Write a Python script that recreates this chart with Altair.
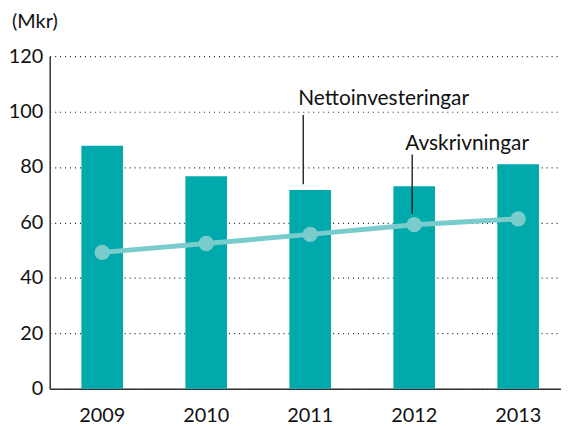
import altair as alt
import pandas as pd

years = ["2009", "2010", "2011", "2012", "2013"]
netto = [87.7, 76.7, 71.7, 73.1, 81.0]
avskr = [49.2, 52.4, 55.7, 59.2, 61.3]

ann_labels = ["Nettoinvesteringar", "Avskrivningar"]
ann_years = ["2011", "2012"]
ann_text_y = [102.4, 86.1]
ann_line_top = [98.8, 84.5]
ann_line_bottom = [73.8, 63.1]

df = pd.DataFrame({"year": years, "netto": netto, "avskr": avskr})
ann = pd.DataFrame({"year": ann_years, "label": ann_labels, "ty": ann_text_y,
                    "top": ann_line_top, "bottom": ann_line_bottom})

FONT = "Lato"
xscale = alt.Scale(paddingInner=0.6, paddingOuter=0.2584, align=0.59)
yscale = alt.Scale(domain=[0, 120])

xenc = alt.X("year:N", title=None, scale=xscale,
             axis=alt.Axis(labelAngle=0, ticks=False, labelFontSize=20, labelPadding=17,
                           labelColor="#111", domainColor="#333", domainWidth=1.5, grid=False))

bars = alt.Chart(df).mark_bar(color="#00A9AC").encode(
    x=xenc,
    y=alt.Y("netto:Q", scale=yscale, title=None,
            axis=alt.Axis(values=[0, 20, 40, 60, 80, 100, 120], ticks=False, labelFontSize=20,
                          labelColor="#111", labelPadding=7, domainColor="#333", domainWidth=1.5,
                          grid=True, gridDash=[1, 4], gridColor="#222", gridWidth=1.2)),
)

line = alt.Chart(df).mark_line(color="#7ACCCC", strokeWidth=5).encode(
    x=alt.X("year:N", scale=xscale), y=alt.Y("avskr:Q", scale=yscale))
pts = alt.Chart(df).mark_point(filled=True, color="#7ACCCC", size=240, opacity=1).encode(
    x=alt.X("year:N", scale=xscale), y=alt.Y("avskr:Q", scale=yscale))

rule1 = alt.Chart(ann[ann.year == "2011"]).mark_rule(color="#111", strokeWidth=1.3, xOffset=-7).encode(
    x=alt.X("year:N", scale=xscale),
    y=alt.Y("top:Q", scale=yscale), y2="bottom:Q")
rule2 = alt.Chart(ann[ann.year == "2012"]).mark_rule(color="#111", strokeWidth=1.3, xOffset=-2).encode(
    x=alt.X("year:N", scale=xscale),
    y=alt.Y("top:Q", scale=yscale), y2="bottom:Q")

text1 = alt.Chart(ann[ann.year == "2011"]).mark_text(
    align="left", baseline="alphabetic", fontSize=21, font=FONT, color="#111", dx=-12).encode(
    x=alt.X("year:N", scale=xscale), y=alt.Y("ty:Q", scale=yscale), text="label:N")
text2 = alt.Chart(ann[ann.year == "2012"]).mark_text(
    align="left", baseline="alphabetic", fontSize=21, font=FONT, color="#111", dx=-9).encode(
    x=alt.X("year:N", scale=xscale), y=alt.Y("ty:Q", scale=yscale), text="label:N")

chart = alt.layer(bars, line, pts, rule1, rule2, text1, text2).properties(
    width=515, height=335,
    title=alt.TitleParams("(Mkr)", anchor="start", frame="group", fontSize=20, font=FONT,
                          fontWeight="normal", color="#111", offset=14, dx=-38),
    padding={"left": 0, "top": 3, "right": 0, "bottom": 0},
).configure_view(stroke=None).configure_axis(labelFont=FONT)

chart.save("out.html", embed_options={"renderer": "svg", "actions": False})
